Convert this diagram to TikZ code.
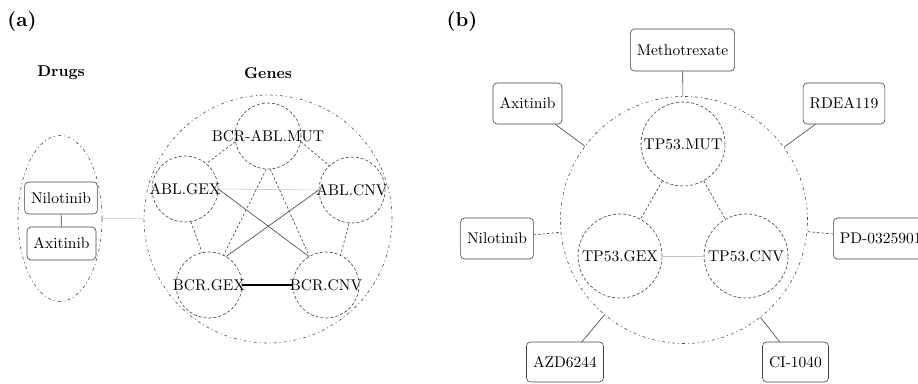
\documentclass[tikz,border=0pt]{standalone}
\usetikzlibrary{shapes.geometric}
\newcommand{\ST}[1]{\scalebox{1.55}{#1}}
\newcommand{\SB}[1]{\scalebox{1.57}{\bfseries #1}}
\newcommand{\SP}[1]{\scalebox{2.0}{\bfseries #1}}
\begin{document}
\begin{tikzpicture}[x=1pt,y=-1pt,
  font=\fontsize{10}{12}\selectfont,
  gnode/.style={circle,draw=black!75,line width=0.6pt,dash pattern=on 3pt off 2pt,minimum size=66pt,inner sep=0pt},
  bnode/.style={gnode,minimum size=84pt},
  grp/.style={draw=black!70,line width=0.6pt,dash pattern=on 3pt off 3pt on 1pt off 3pt,inner sep=0pt},
  drug/.style={draw=black!75,rounded corners=4pt,line width=0.6pt,inner xsep=6.5pt,inner ysep=0pt},
  adrug/.style={drug,minimum height=33pt},
  bdrug/.style={drug,minimum height=41pt},
  dedge/.style={draw=black!75,line width=0.6pt,dash pattern=on 2.5pt off 2pt},
  gedge/.style={draw=black!22,line width=0.6pt},
  sedge/.style={draw=black!75,line width=0.6pt},
  bedge/.style={draw=black,line width=1.4pt}]
\useasboundingbox (0,0) rectangle (918,383);
\clip (0,0) rectangle (918,383);

% ---------- panel (a)
\node (pa) at (22,21) {\SP{(a)}};
\node (tdrugs) at (61,73) {\SB{Drugs}};
\node (tgenes) at (268,73) {\SB{Genes}};

\node[grp,ellipse,minimum width=84pt,minimum height=166pt] (drugs) at (60,218.5) {};
\node[grp,circle,minimum size=248pt] (genes) at (268,219) {};
\node[adrug,minimum height=32pt,minimum width=72pt] (anil) at (61,198) {\ST{Nilotinib}};
\node[adrug,minimum width=69pt] (aaxi) at (61.5,243.5) {\ST{Axitinib}};
\draw[sedge] (anil) -- (aaxi);
\draw[gedge] (drugs) -- (genes);

\node[gnode,label={center:\ST{BCR-ABL.MUT}}] (mut) at (268,136) {};
\node[gnode,label={center:\ST{ABL.GEX}}] (ablgex) at (185,189) {};
\node[gnode,label={center:\ST{ABL.CNV}}] (ablcnv) at (352,190) {};
\node[gnode,label={center:\ST{BCR.GEX}}] (bcrgex) at (209,285) {};
\node[gnode,label={center:\ST{BCR.CNV}}] (bcrcnv) at (326,285) {};

\draw[dedge] (mut.190) -- (ablgex.50);
\draw[dedge] (mut.350) -- (ablcnv.133);
\draw[gedge] (ablgex.east) -- (ablcnv.west);
\draw[dedge] (ablgex.280) -- (bcrgex.102);
\draw[dedge] (ablcnv.265) -- (bcrcnv.64);
\draw[dedge] (mut.267) -- (bcrgex.64);
\draw[dedge] (mut.274) -- (bcrcnv.120);
\draw[sedge] (ablgex.east) -- (bcrcnv.121);
\draw[sedge] (ablcnv.west) -- (bcrgex.59);
\draw[bedge] (bcrgex.east) -- (bcrcnv.west);

% ---------- panel (b)
\node (pb) at (462,21) {\SP{(b)}};
\node[grp,circle,minimum size=247pt] (big) at (684,220) {};
\node[bnode,label={center:\ST{TP53.MUT}}] (tmut) at (683,144) {};
\node[bnode,label={center:\ST{TP53.GEX}}] (tgex) at (620,256) {};
\node[bnode,label={center:\ST{TP53.CNV}}] (tcnv) at (746,256) {};
\draw[dedge] (tmut) -- (tgex);
\draw[dedge] (tmut) -- (tcnv);
\draw[gedge] (tgex) -- (tcnv);

\node[bdrug,minimum height=42pt] (meth) at (682.5,50) {\ST{Methotrexate}};
\node[bdrug] (baxi) at (527.5,103.5) {\ST{Axitinib}};
\node[bdrug] (rdea) at (844,103.5) {\ST{RDEA119}};
\node[bdrug] (bnil) at (497,238.5) {\ST{Nilotinib}};
\node[bdrug,anchor=west] (pd) at (833,238.5) {\ST{PD-0325901}};
\node[bdrug,minimum height=40pt] (azd) at (565,362) {\ST{AZD6244}};
\node[bdrug,minimum height=40pt] (ci) at (795.5,362) {\ST{CI-1040}};

\draw[sedge] (meth) -- (big);
\draw[sedge] (baxi) -- (big);
\draw[sedge] (rdea) -- (big);
\draw[dedge] (bnil) -- (big);
\draw[dedge] (pd) -- (big);
\draw[sedge] (azd) -- (big);
\draw[sedge] (ci) -- (big);
\end{tikzpicture}
\end{document}
